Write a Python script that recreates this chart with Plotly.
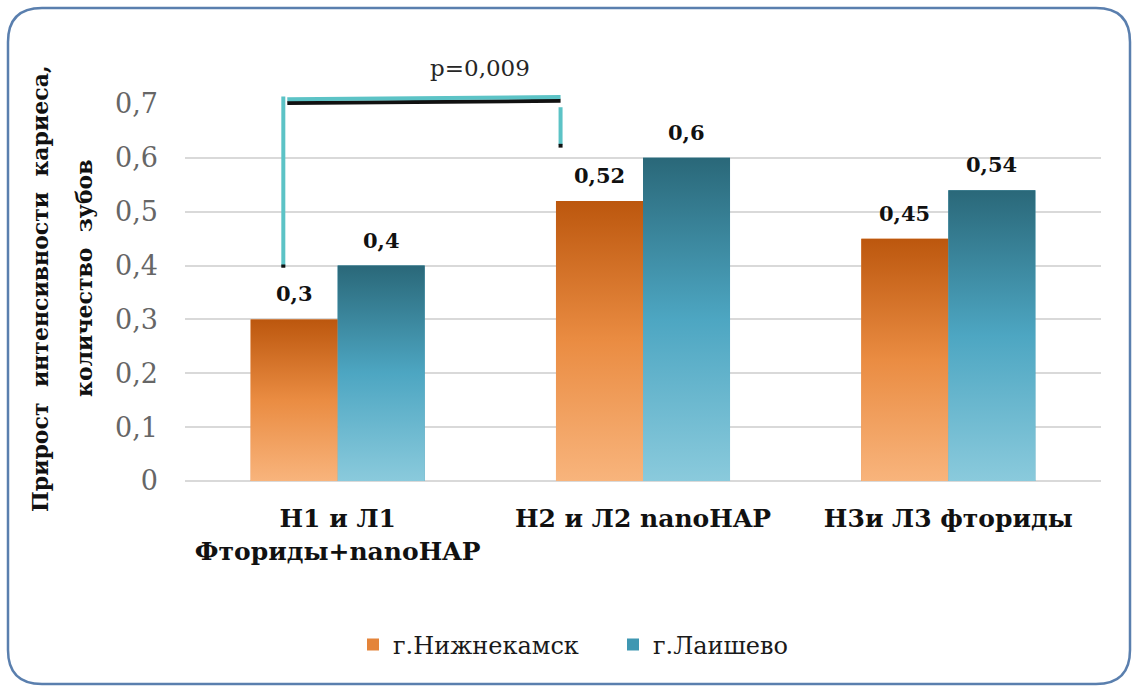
import plotly.graph_objects as go

# Data
categories = ["Н1 и Л1<br>Фториды+nanoHAP", "Н2 и Л2 nanoHAP", "Н3и Л3 фториды"]
series_names = ["г.Нижнекамск", "г.Лаишево"]
nizhnekamsk = [0.3, 0.52, 0.45]
laishevo = [0.4, 0.6, 0.54]
y_ticks = [0, 0.1, 0.2, 0.3, 0.4, 0.5, 0.6, 0.7]
p_value_label = "p=0,009"

# Styling
SERIF = "DejaVu Serif, Liberation Serif, Times New Roman, serif"
W, H = 1133, 686
M_L, M_R, M_T, M_B = 185, 32, 104, 205
PLOT_W = W - M_L - M_R
PLOT_H = H - M_T - M_B
Y_MAX = 0.7

BARGAP = 0.43
BAR_W = (1 - BARGAP) / 2

series_values = [nizhnekamsk, laishevo]
solid_colors = ["#E4843A", "#3F97B2"]
gradients = [
    [[0, "#F8B47C"], [0.5, "#EA8C42"], [1, "#BC570E"]],
    [[0, "#8ACADC"], [0.5, "#4DA6C2"], [1, "#2A6879"]],
]

xs = list(range(len(categories)))


def fmt(v):
    return f"{v:g}".replace(".", ",")


fig = go.Figure()

# Bars (values and legend entries)
for k, (name, vals) in enumerate(zip(series_names, series_values)):
    fig.add_trace(go.Bar(
        x=xs, y=vals, name=name,
        offsetgroup=str(k),
        marker=dict(color=solid_colors[k], line=dict(width=0)),
    ))

# Vertical gradient shading laid over each bar
annotations = []
for k, vals in enumerate(series_values):
    off = (k - 0.5) * BAR_W
    for i, v in zip(xs, vals):
        x0 = i + off - BAR_W / 2
        x1 = i + off + BAR_W / 2
        fig.add_trace(go.Scatter(
            x=[x0, x1, x1, x0, x0], y=[0, 0, v, v, 0],
            mode="lines", fill="toself", line=dict(width=0),
            fillgradient=dict(type="vertical", colorscale=gradients[k]),
            hoverinfo="skip", showlegend=False,
        ))
        # value label above the bar
        annotations.append(dict(
            text=fmt(v), xref="x", yref="y", x=i + off, y=v,
            xanchor="center", yanchor="bottom", yshift=11, showarrow=False,
            font=dict(family=SERIF, size=21, color="#111111", weight="bold"),
        ))


def px_x(p):
    return (p - M_L) / PLOT_W


def px_y(p):
    return (H - M_B - p) / PLOT_H


def dx(x):
    # category-axis position -> paper x
    return (x + 0.5) / len(categories)


def dy(y):
    # value-axis position -> paper y
    return y / Y_MAX


# Rounded outer frame
fx0, fx1, fy0, fy1, r = 8, 1130, 8, 684, 34
frame_path = (
    f"M {px_x(fx0 + r)},{px_y(fy0)} L {px_x(fx1 - r)},{px_y(fy0)} "
    f"Q {px_x(fx1)},{px_y(fy0)} {px_x(fx1)},{px_y(fy0 + r)} "
    f"L {px_x(fx1)},{px_y(fy1 - r)} "
    f"Q {px_x(fx1)},{px_y(fy1)} {px_x(fx1 - r)},{px_y(fy1)} "
    f"L {px_x(fx0 + r)},{px_y(fy1)} "
    f"Q {px_x(fx0)},{px_y(fy1)} {px_x(fx0)},{px_y(fy1 - r)} "
    f"L {px_x(fx0)},{px_y(fy0 + r)} "
    f"Q {px_x(fx0)},{px_y(fy0)} {px_x(fx0 + r)},{px_y(fy0)} Z"
)
shapes = [dict(type="path", xref="paper", yref="paper", path=frame_path,
               line=dict(color="#5A7FAE", width=2.5), layer="below")]

# Significance bracket between the first and second groups
TEAL = "#5CC3C6"
INK = "#111111"


def seg(x0, y0, x1, y1, color):
    return dict(type="line", xref="paper", yref="paper",
                x0=dx(x0), y0=dy(y0), x1=dx(x1), y1=dy(y1),
                line=dict(color=color, width=4))


shapes += [
    seg(-0.178, 0.398, -0.178, 0.714, TEAL),
    seg(-0.178, 0.396, -0.178, 0.402, INK),
    seg(-0.165, 0.702, 0.73, 0.706, INK),
    seg(-0.165, 0.709, 0.73, 0.713, TEAL),
    seg(0.73, 0.624, 0.73, 0.694, TEAL),
    seg(0.73, 0.619, 0.73, 0.626, INK),
]

annotations += [
    dict(text=p_value_label, xref="paper", yref="paper", x=dx(0.466), y=px_y(68),
         xanchor="center", yanchor="middle", showarrow=False,
         font=dict(family=SERIF, size=23, color="#262626")),
    dict(text="Прирост  интенсивности  кариеса,", xref="paper", yref="paper",
         x=px_x(40), y=px_y(289), xanchor="center", yanchor="middle",
         textangle=-90, showarrow=False,
         font=dict(family=SERIF, size=22, color="#111111", weight="bold")),
    dict(text="количество  зубов", xref="paper", yref="paper",
         x=px_x(84), y=px_y(278), xanchor="center", yanchor="middle",
         textangle=-90, showarrow=False,
         font=dict(family=SERIF, size=22, color="#111111", weight="bold")),
]

fig.update_layout(
    width=W, height=H,
    margin=dict(l=M_L, r=M_R, t=M_T, b=M_B),
    paper_bgcolor="white", plot_bgcolor="white",
    font=dict(family=SERIF),
    separators=", ",
    barmode="group", bargap=BARGAP, bargroupgap=0,
    shapes=shapes, annotations=annotations,
    showlegend=True,
    legend=dict(orientation="h", x=px_x(613), xanchor="center",
                y=px_y(645), yanchor="middle",
                font=dict(family=SERIF, size=24, color="#1A1A1A"),
                itemwidth=30, tracegroupgap=0,
                entrywidth=215, entrywidthmode="pixels"),
    xaxis=dict(range=[-0.5, 2.5], tickvals=xs, ticktext=categories,
               tickfont=dict(family=SERIF, size=25, color="#111111", weight="bold"),
               showgrid=False, zeroline=False, showline=False, ticks="",
               ticklabelstandoff=20),
    yaxis=dict(range=[0, Y_MAX], tickvals=y_ticks, showgrid=True,
               gridcolor="#D9D9D9", gridwidth=2, zeroline=True,
               zerolinecolor="#D9D9D9", zerolinewidth=2, showline=False,
               tickfont=dict(family=SERIF, size=27, color="#666666"),
               ticklabelstandoff=26),
)

fig.write_html("out.html")
